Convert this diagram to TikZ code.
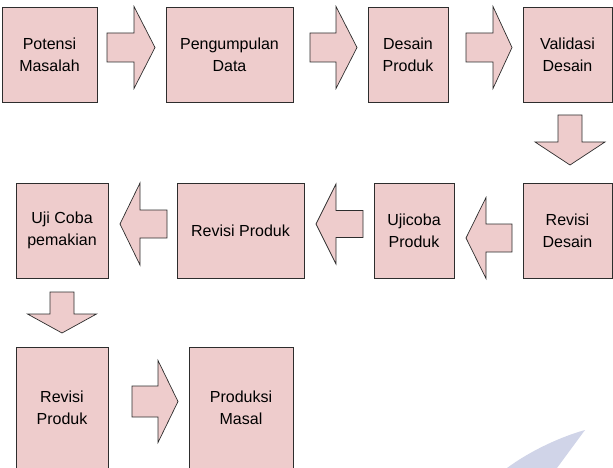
\documentclass[tikz,border=0pt]{standalone}
\usepackage{fontspec}
\setmainfont{Liberation Sans}
\definecolor{boxpink}{RGB}{238,204,204}
\definecolor{boxline}{RGB}{45,45,45}
\definecolor{markblue}{RGB}{208,212,232}
\tikzset{
  pics/blockarrow/.style args={#1/#2/#3/#4}{code={
    \draw[arrowbody] (-#1,-#3) -- (-#2,-#3) -- (-#2,-#4) -- (0,0) -- (-#2,#4) -- (-#2,#3) -- (-#1,#3) -- cycle;
  }}
}
\begin{document}
\begin{tikzpicture}[x=1pt,y=-1pt,box/.style={draw=boxline,fill=boxpink,line width=0.8pt,align=center,inner sep=0pt,minimum height=95pt,font=\fontsize{16}{22}\selectfont},arrowbody/.style={draw=boxline,fill=boxpink,line width=0.7pt,line join=miter}]
\path[use as bounding box,clip] (0,0) rectangle (613,468);
% watermark corner
\fill[markblue] (585,430) .. controls (560,437) and (530,451) .. (507,468) -- (557,468) -- cycle;
% first row
\node[box,minimum width=95pt] (potensi) at (49.5,54.5) {Potensi\\Masalah};
\node[box,minimum width=127pt] (pengumpulan) at (229.5,54.5) {Pengumpulan\\Data};
\node[box,minimum width=80pt] (desain) at (408,54.5) {Desain\\Produk};
\node[box,minimum width=89pt] (validasi) at (567.5,54.5) {Validasi\\Desain};
% second row
\node[box,minimum width=89pt] (revdesain) at (567.5,230.5) {Revisi\\Desain};
\node[box,minimum width=80pt] (ujicoba) at (414,230.5) {Ujicoba\\Produk};
\node[box,minimum width=127pt] (revproduk) at (240.5,230.5) {Revisi Produk};
\node[box,minimum width=92pt] (pemakaian) at (62,230.5) {Uji Coba\\pemakian};
% third row
\node[box,minimum width=92pt,minimum height=122pt] (revproduk2) at (62,408) {Revisi\\Produk};
\node[box,minimum width=104pt,minimum height=122pt] (produksi) at (241,408) {Produksi\\Masal};
% block arrows (tip, then length/head/shaft/head width)
\pic at (155,47.5) {blockarrow=48/21/14.5/41};
\pic at (357,47.5) {blockarrow=47/21/14.5/41};
\pic at (512,47.5) {blockarrow=46/19/14.5/41};
\pic[rotate=-90] at (570,165) {blockarrow=50/23/12/35};
\pic[rotate=180] at (466,238) {blockarrow=46/20/14/40.5};
\pic[rotate=180] at (316,224) {blockarrow=47/20/13.5/40};
\pic[rotate=180] at (120,224) {blockarrow=47/20/14/41};
\pic[rotate=-90] at (62,333) {blockarrow=41/19/12/34.5};
\pic at (178,401.5) {blockarrow=46/20/15.5/41};
\end{tikzpicture}
\end{document}
